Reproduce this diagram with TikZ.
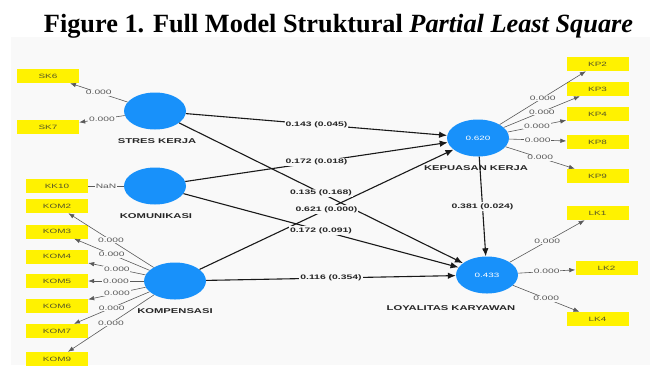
\documentclass[tikz,border=0pt]{standalone}
\usepackage{fontspec}
\setmainfont{Liberation Serif}
\newfontfamily\dfont[FakeStretch=1.6]{Liberation Sans}
\usetikzlibrary{arrows.meta,shapes.geometric}
\definecolor{panel}{RGB}{249,249,249}
\definecolor{lvblue}{RGB}{24,145,250}
\definecolor{loadgray}{RGB}{90,90,90}
\definecolor{indtext}{RGB}{85,85,40}

\begin{document}
\begin{tikzpicture}[x=1pt,y=-1pt,
  lv/.style={ellipse, fill=lvblue, minimum width=62pt, minimum height=37pt,
    inner sep=0pt, text=white, font=\dfont\fontsize{6.2}{6}\selectfont},
  lvname/.style={font=\dfont\bfseries\fontsize{7}{7}\selectfont, text=black!85, inner sep=0pt},
  ind/.style={rectangle, fill=yellow, minimum width=62pt, minimum height=14pt,
    inner sep=0pt, text=indtext, font=\dfont\fontsize{6.2}{6}\selectfont},
  load/.style={draw=loadgray, line width=0.6pt, -{Latex[length=6pt,width=4.5pt]}},
  loadplain/.style={draw=loadgray, line width=0.6pt},
  ldlab/.style={fill=panel, inner sep=0.8pt, text=loadgray, font=\dfont\fontsize{6.4}{6}\selectfont},
  struct/.style={draw=black!90, line width=1.1pt, -{Latex[length=8pt,width=6.5pt]}},
  stlab/.style={fill=panel, inner sep=1pt, text=black!85, font=\dfont\bfseries\fontsize{6.5}{6}\selectfont},
]
\useasboundingbox (0,0) rectangle (650,365);
\fill[panel] (11,37) rectangle (650,365);

% caption
\node[font=\fontsize{26.3}{30}\selectfont\bfseries, anchor=base, inner sep=0pt] (title)
  at (338.5,32) {Figure 1. Full Model Struktural \textit{Partial Least Square}};

% latent variables
\node[lv] (sk)   at (155,111) {};
\node[lv] (komu) at (155,186) {};
\node[lv] (komp) at (175,281) {};
\node[lv] (kk)   at (478,138) {0.620};
\node[lv] (lk)   at (487,275) {0.433};

\node[lvname] (sklab)   at (157,141) {STRES KERJA};
\node[lvname] (komulab) at (156,216) {KOMUNIKASI};
\node[lvname] (komplab) at (175,311) {KOMPENSASI};
\node[lvname] (kklab)   at (476,168) {KEPUASAN KERJA};
\node[lvname] (lklab)   at (451,308) {LOYALITAS KARYAWAN};

% indicators
\node[ind] (sk6)  at (48,76)  {SK6};
\node[ind] (sk7)  at (48,127) {SK7};
\node[ind] (kk10) at (57,186) {KK10};
\node[ind] (kom2) at (57,206) {KOM2};
\node[ind] (kom3) at (57,231.5) {KOM3};
\node[ind] (kom4) at (57,256.5) {KOM4};
\node[ind] (kom5) at (57,281) {KOM5};
\node[ind] (kom6) at (57,306) {KOM6};
\node[ind] (kom7) at (57,331) {KOM7};
\node[ind] (kom9) at (57,359) {KOM9};

\node[ind] (kp2) at (597.5,64)  {KP2};
\node[ind] (kp3) at (597.5,89)  {KP3};
\node[ind] (kp4) at (597.5,114) {KP4};
\node[ind] (kp8) at (597.5,142) {KP8};
\node[ind] (kp9) at (597.5,176) {KP9};

\node[ind] (lk1) at (597.5,213) {LK1};
\node[ind] (lk2) at (606.5,268) {LK2};
\node[ind] (lk4) at (597.5,319) {LK4};

% outer loadings
\foreach \a/\b in {sk/sk6, sk/sk7, komp/kom2, komp/kom3, komp/kom4, komp/kom5,
                   komp/kom6, komp/kom7, komp/kom9, kk/kp2, kk/kp3, kk/kp4,
                   kk/kp8, kk/kp9, lk/lk1, lk/lk2, lk/lk4}
  \draw[load] (\a) -- (\b);
\draw[loadplain] (komu) -- (kk10);

% inner model paths
\draw[struct] (sk) -- (kk);
\draw[struct] (sk) -- (lk);
\draw[struct] (komu) -- (kk);
\draw[struct] (komu) -- (lk);
\draw[struct] (komp) -- (kk);
\draw[struct] (komp) -- (lk);
\draw[struct] (kk) -- (lk);

% loading values
\foreach \a/\b in {sk/sk6, sk/sk7, komp/kom2, komp/kom3, komp/kom4, komp/kom5,
                   komp/kom6, komp/kom7, komp/kom9, kk/kp2, kk/kp3, kk/kp4,
                   kk/kp8, kk/kp9, lk/lk1, lk/lk2, lk/lk4}
  \path (\a) -- node[ldlab] {0.000} (\b);
\path (komu) -- node[ldlab] {NaN} (kk10);

% path coefficients (p-values)
\path (sk) -- node[stlab] {0.143 (0.045)} (kk);
\path (sk) -- node[stlab] {0.135 (0.168)} (lk);
\path (komu) -- node[stlab] {0.172 (0.018)} (kk);
\path (komu) -- node[stlab] {0.172 (0.091)} (lk);
\path (komp) -- node[stlab] {0.621 (0.000)} (kk);
\path (komp) -- node[stlab] {0.116 (0.354)} (lk);
\path (kk) -- node[stlab] {0.381 (0.024)} (lk);
\end{tikzpicture}
\end{document}
